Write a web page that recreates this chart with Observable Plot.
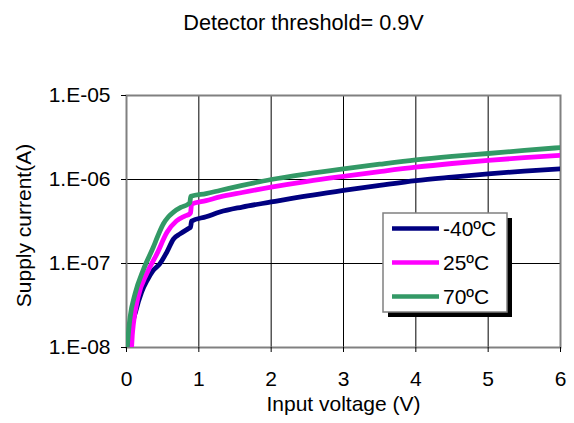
<!DOCTYPE html>
<html>
<head>
<meta charset="utf-8">
<script src="https://cdn.jsdelivr.net/npm/d3@7"></script>
<script src="https://cdn.jsdelivr.net/npm/@observablehq/plot@0.6"></script>
<style>
  body { margin: 0; background: #fff; }
  #chart svg { display: block; }
</style>
</head>
<body>
<div id="chart"></div>
<script>
const titleText = "Detector threshold= 0.9V";
const xLabel = "Input voltage (V)";
const yLabel = "Supply current(A)";
const seriesNames = ["-40ºC", "25ºC", "70ºC"];
const seriesColors = ["#000080", "#FF00FF", "#339966"];
const xTicks = [0, 1, 2, 3, 4, 5, 6];
const yTicks = [1e-8, 1e-7, 1e-6, 1e-5];

const vM40 = [0.05, 0.07, 0.13, 0.21, 0.29, 0.37, 0.46, 0.556, 0.65, 0.74, 0.855, 0.885, 0.9, 1.1, 1.29, 1.6, 2, 2.5, 3, 3.5, 4, 4.5, 5, 5.5, 6];
const iM40 = [1e-8, 1.6e-8, 2.75e-8, 4.6e-8, 6.4e-8, 8.3e-8, 9.9e-8, 1.36e-7, 1.96e-7, 2.25e-7, 2.6e-7, 2.7e-7, 3.2e-7, 3.6e-7, 4.1e-7, 4.7e-7, 5.4e-7, 6.4e-7, 7.4e-7, 8.5e-7, 9.7e-7, 1.07e-6, 1.17e-6, 1.26e-6, 1.34e-6];

const v25 = [0.07, 0.08, 0.095, 0.16, 0.28, 0.42, 0.56, 0.69, 0.8, 0.875, 0.885, 0.9, 1.1, 1.29, 1.6, 2, 2.5, 3, 3.5, 4, 4.5, 5, 5.5, 6];
const i25 = [1e-8, 1.4e-8, 1.9e-8, 4e-8, 7.6e-8, 1.3e-7, 2.35e-7, 3.2e-7, 3.65e-7, 3.9e-7, 4.0e-7, 5.1e-7, 5.6e-7, 6.2e-7, 7.0e-7, 8.1e-7, 9.5e-7, 1.09e-6, 1.24e-6, 1.4e-6, 1.55e-6, 1.69e-6, 1.82e-6, 1.94e-6];

const v70 = [0.01, 0.03, 0.05, 0.12, 0.23, 0.37, 0.44, 0.51, 0.58, 0.65, 0.75, 0.855, 0.875, 0.89, 1.1, 1.29, 1.6, 2, 2.5, 3, 3.5, 4, 4.5, 5, 5.5, 6];
const i70 = [1e-8, 1.6e-8, 2.3e-8, 4.4e-8, 8.3e-8, 1.56e-7, 2.2e-7, 2.97e-7, 3.6e-7, 4.1e-7, 4.65e-7, 5.1e-7, 5.3e-7, 6.3e-7, 6.8e-7, 7.4e-7, 8.5e-7, 1.0e-6, 1.17e-6, 1.34e-6, 1.52e-6, 1.71e-6, 1.88e-6, 2.04e-6, 2.22e-6, 2.4e-6];

const seriesV = [vM40, v25, v70];
const seriesI = [iM40, i25, i70];

const rows = [];
seriesNames.forEach((name, k) => {
  seriesV[k].forEach((v, j) => rows.push({series: name, v, i: seriesI[k][j]}));
});

const FONT = "'Liberation Sans', Arial, sans-serif";
const FS = 21;

const svg = Plot.plot({
  width: 574,
  height: 423,
  marginTop: 95,
  marginBottom: 76,
  marginLeft: 126,
  marginRight: 14,
  style: {fontFamily: FONT, fontSize: FS + "px", color: "#000", background: "#fff", overflow: "visible"},
  x: {domain: [0, 6], ticks: xTicks},
  y: {type: "log", domain: [1e-8, 1e-5], ticks: yTicks},
  color: {domain: seriesNames, range: seriesColors},
  marks: [
    Plot.gridX(xTicks, {stroke: "#000", strokeOpacity: 1, strokeWidth: 1}),
    Plot.gridY(yTicks, {stroke: "#000", strokeOpacity: 1, strokeWidth: 1}),
    Plot.frame({stroke: "#808080", strokeWidth: 2}),
    Plot.axisY(yTicks, {tickSize: 5, tickPadding: 11, fontSize: FS,
      tickFormat: d => "1.E-" + String(Math.round(-Math.log10(d))).padStart(2, "0"), label: null}),
    Plot.axisX(xTicks, {tickSize: 5, tickPadding: 19, fontSize: FS, label: null}),
    Plot.line(rows, {x: "v", y: "i", z: "series", stroke: "series", strokeWidth: 4.8, clip: true,
      curve: "monotone-x", strokeLinejoin: "round"}),
    Plot.text([titleText], {frameAnchor: "top", lineAnchor: "top", dy: -81, dx: -40, fontSize: 21.7, text: d => d}),
    Plot.text([xLabel], {frameAnchor: "bottom", lineAnchor: "top", dy: 49, fontSize: FS, text: d => d}),
    Plot.text([yLabel], {frameAnchor: "left", rotate: -90, dx: -102, dy: 4, textAnchor: "middle", fontSize: FS, text: d => d})
  ]
});

// legend
const lg = d3.select(svg).append("g").attr("font-family", FONT).attr("font-size", FS).attr("text-anchor", "start");
const bx = 383, by = 213, bw = 124, bh = 99;
lg.append("rect").attr("x", bx + 5).attr("y", by + 5).attr("width", bw).attr("height", bh).attr("fill", "#000");
lg.append("rect").attr("x", bx).attr("y", by).attr("width", bw).attr("height", bh).attr("fill", "#fff").attr("stroke", "#808080").attr("stroke-width", 1.5);
seriesNames.forEach((name, k) => {
  const yy = by + 15.5 + k * 34;
  lg.append("line").attr("x1", bx + 9).attr("x2", bx + 56).attr("y1", yy).attr("y2", yy)
    .attr("stroke", seriesColors[k]).attr("stroke-width", 4.5);
  lg.append("text").attr("x", bx + 60).attr("y", yy).attr("dy", "0.36em").attr("fill", "#000")
    .attr("text-anchor", "start").text(name);
});

document.getElementById("chart").appendChild(svg);
</script>
</body>
</html>
